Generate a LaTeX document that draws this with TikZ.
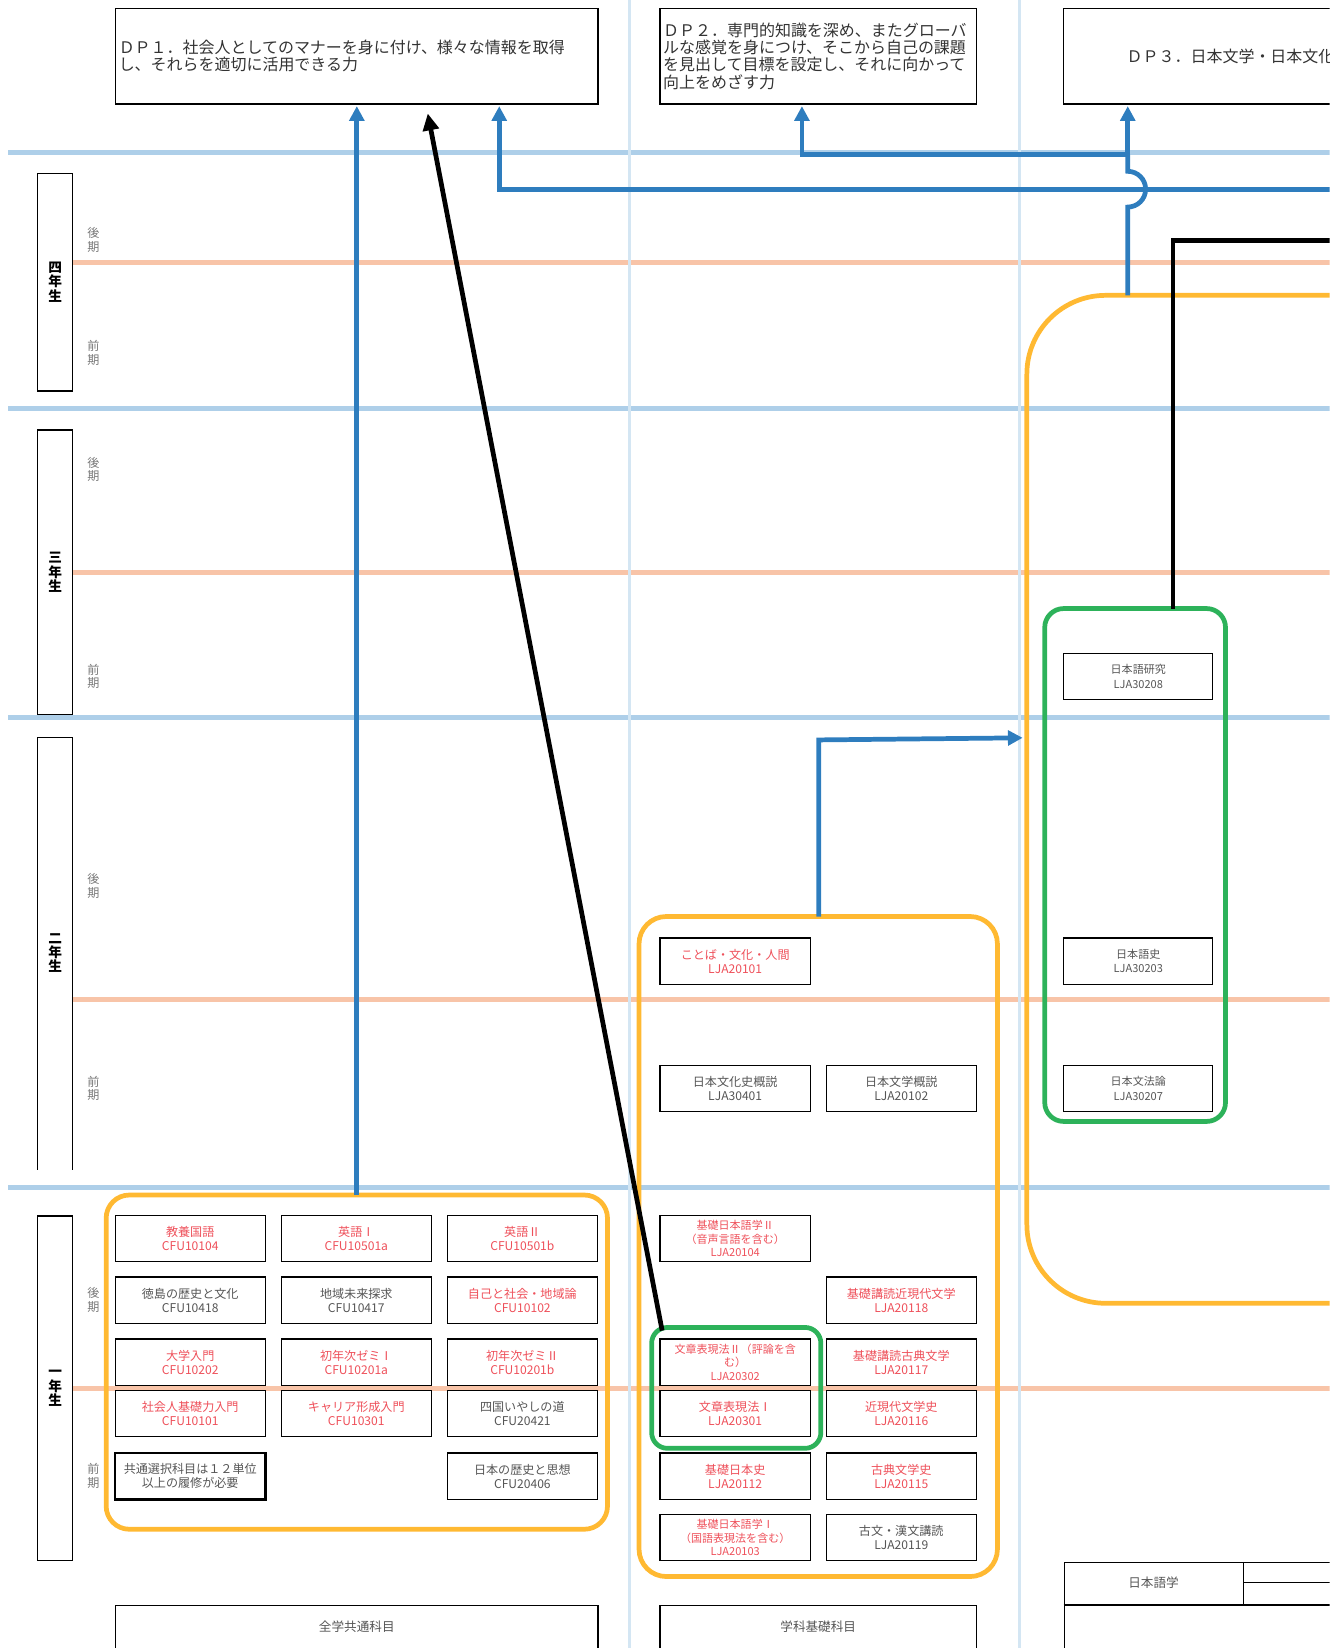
\documentclass[tikz,border=0pt]{standalone}
\usepackage{fontspec}
\setmainfont{Noto Sans CJK JP}
\usetikzlibrary{arrows.meta,calc}
\definecolor{sepblue}{RGB}{174,207,233}
\definecolor{vblue}{RGB}{212,230,243}
\definecolor{semor}{RGB}{248,196,168}
\definecolor{ylw}{RGB}{255,185,50}
\definecolor{grn}{RGB}{45,178,90}
\definecolor{arrblue}{RGB}{46,125,190}
\definecolor{crsred}{RGB}{238,80,90}
\definecolor{crsgray}{RGB}{85,85,85}
\definecolor{dptext}{RGB}{51,51,51}
\definecolor{semgray}{RGB}{120,120,120}
\begin{document}
\begin{tikzpicture}[x=1pt,y=-1pt,
  hsep/.style={draw=sepblue,line width=5pt},
  hsem/.style={draw=semor,line width=5pt},
  vsep/.style={draw=vblue,line width=3pt},
  course/.style={draw=black,line width=1.1pt,minimum width=143pt,minimum height=44pt,inner sep=0pt,align=center,font=\fontsize{11.5}{13.5}\selectfont},
  course3/.style={course,font=\fontsize{10.5}{13}\selectfont},
  coursec/.style={course,minimum width=142pt,font=\fontsize{10.5}{13.5}\selectfont},
  redtxt/.style={text=crsred},
  graytxt/.style={text=crsgray},
  dpbox/.style={draw=black,line width=1.1pt,minimum height=91pt,inner sep=0pt,align=left,text=dptext,font=\fontsize{15.2}{16.5}\selectfont},
  yearbox/.style={draw=black,line width=1.2pt,minimum width=33pt,inner sep=0pt,align=center,font=\fontsize{13}{13.5}\selectfont\bfseries},
  semlbl/.style={align=center,text=semgray,inner sep=0pt,font=\fontsize{11.5}{13}\selectfont},
  ybox/.style={draw=ylw,line width=4.5pt},
  gbox/.style={draw=grn,line width=4.5pt},
  bluearr/.style={draw=arrblue,line width=4.5pt,-{Triangle[length=14pt,width=14pt]}},
  blueln/.style={draw=arrblue,line width=4.5pt},
  blackarr/.style={draw=black,line width=4.5pt,-{Triangle[length=16pt,width=15pt]}},
  blackln/.style={draw=black,line width=4.5pt},
  catlbl/.style={inner sep=0pt,text=crsgray,font=\fontsize{12}{14}\selectfont},
  catbox/.style={draw=black,line width=1.1pt,inner sep=0pt}
]
\useasboundingbox (0,0) rectangle (1278,1568);
\begin{scope}
\clip (0,0) rectangle (1265,1568);
% grid lines
\foreach \y in {145,389,683,1130} \draw[hsep] (8,\y) -- (1300,\y);
\foreach \y in {250,545,951,1321} \draw[hsem] (69,\y) -- (1300,\y);
\draw[vsep] (599,0) -- (599,1568);
\draw[vsep] (970,0) -- (970,1568);

% year boxes
\node[yearbox,minimum height=207pt] (yr4) at (52.5,268.5) {四\\年\\生};
\node[yearbox,minimum height=271pt] (yr3) at (52.5,544.5) {三\\年\\生};
\draw[line width=1.2pt] (36,1113) -- (36,702) -- (69,702) -- (69,1113);
\node[inner sep=0pt,align=center,font=\fontsize{13}{13.5}\selectfont\bfseries] (yr2) at (52.5,907) {二\\年\\生};
\node[yearbox,minimum height=328pt] (yr1) at (52.5,1321) {一\\年\\生};

% semester labels
\node[semlbl] (s4b) at (89,228.5) {後\\期};
\node[semlbl] (s4a) at (89,335.5) {前\\期};
\node[semlbl] (s3b) at (89,446.5) {後\\期};
\node[semlbl] (s3a) at (89,643.5) {前\\期};
\node[semlbl] (s2b) at (89,843) {後\\期};
\node[semlbl] (s2a) at (89,1035.5) {前\\期};
\node[semlbl] (s1b) at (89,1237) {後\\期};
\node[semlbl] (s1a) at (89,1404.5) {前\\期};

% DP boxes
\node[dpbox,minimum width=459pt,text width=453pt] (dp1) at (339.5,53.5)
  {ＤＰ１．社会人としてのマナーを身に付け、様々な情報を取得\\し、それらを適切に活用できる力};
\node[dpbox,minimum width=301pt,text width=295pt] (dp2) at (778.5,53.5)
  {ＤＰ２．専門的知識を深め、またグローバ\\ルな感覚を身につけ、そこから自己の課題\\を見出して目標を設定し、それに向かって\\向上をめざす力};
\node[dpbox,minimum width=320pt,text width=200pt] (dp3) at (1172,53.5)
  {ＤＰ３．日本文学・日本文化};

% rounded group boxes
\draw[ybox,rounded corners=22pt] (101,1137) rectangle (578,1455);
\coordinate (y1top) at (339.5,1137);
\draw[ybox,rounded corners=26pt] (608,872) rectangle (949,1500);
\coordinate (y2top) at (779,872);
\draw[ybox,rounded corners=75pt] (977,281) rectangle (1400,1240);
\coordinate (y3top) at (1073,281);
\draw[gbox,rounded corners=15pt] (620,1263) rectangle (781,1378);
\coordinate (g1start) at (630,1266);
\draw[gbox,rounded corners=18pt] (994,579) rectangle (1166,1067);
\coordinate (g2top) at (1116,579);

% column 1 courses
\node[course,redtxt] (c1) at (181,1178.5) {教養国語\\CFU10104};
\node[course,redtxt] (c2) at (339,1178.5) {英語Ⅰ\\CFU10501a};
\node[course,redtxt] (c3) at (497,1178.5) {英語Ⅱ\\CFU10501b};
\node[course,graytxt] (c4) at (181,1237) {徳島の歴史と文化\\CFU10418};
\node[course,graytxt] (c5) at (339,1237) {地域未来探求\\CFU10417};
\node[course,redtxt] (c6) at (497,1237) {自己と社会・地域論\\CFU10102};
\node[course,redtxt] (c7) at (181,1296) {大学入門\\CFU10202};
\node[course,redtxt] (c8) at (339,1296) {初年次ゼミⅠ\\CFU10201a};
\node[course,redtxt] (c9) at (497,1296) {初年次ゼミⅡ\\CFU10201b};
\node[course,redtxt] (c10) at (181,1345) {社会人基礎力入門\\CFU10101};
\node[course,redtxt] (c11) at (339,1345) {キャリア形成入門\\CFU10301};
\node[course,graytxt] (c12) at (497,1345) {四国いやしの道\\CFU20421};
\node[course,graytxt,line width=2.6pt] (c13) at (181,1404.5) {共通選択科目は１２単位\\以上の履修が必要};
\node[course,graytxt] (c14) at (497,1404.5) {日本の歴史と思想\\CFU20406};

% column 2 courses
\node[course,redtxt] (d1) at (699.5,914.5) {ことば・文化・人間\\LJA20101};
\node[course,graytxt] (d2) at (699.5,1035.5) {日本文化史概説\\LJA30401};
\node[course,graytxt] (d3) at (857.5,1035.5) {日本文学概説\\LJA20102};
\node[course3,redtxt] (d4) at (699.5,1178.5) {基礎日本語学Ⅱ\\（音声言語を含む）\\LJA20104};
\node[course,redtxt] (d5) at (857.5,1237) {基礎講読近現代文学\\LJA20118};
\node[course3,redtxt] (d6) at (699.5,1296) {文章表現法Ⅱ（評論を含\\む）\\LJA20302};
\node[course,redtxt] (d7) at (857.5,1296) {基礎講読古典文学\\LJA20117};
\node[course,redtxt] (d8) at (699.5,1345) {文章表現法Ⅰ\\LJA20301};
\node[course,redtxt] (d9) at (857.5,1345) {近現代文学史\\LJA20116};
\node[course,redtxt] (d10) at (699.5,1404.5) {基礎日本史\\LJA20112};
\node[course,redtxt] (d11) at (857.5,1404.5) {古典文学史\\LJA20115};
\node[course3,redtxt] (d12) at (699.5,1463) {基礎日本語学Ⅰ\\（国語表現法を含む）\\LJA20103};
\node[course,graytxt] (d13) at (857.5,1463) {古文・漢文講読\\LJA20119};

% column 3 courses
\node[coursec,graytxt] (e1) at (1083,643.5) {日本語研究\\LJA30208};
\node[coursec,graytxt] (e2) at (1083,914.5) {日本語史\\LJA30203};
\node[coursec,graytxt] (e3) at (1083,1035.5) {日本文法論\\LJA30207};

% category boxes at bottom
\node[catbox,minimum width=459pt,minimum height=80pt,anchor=north] (k1) at (339.5,1527) {};
\node[catlbl] (k1l) at (339.5,1548) {全学共通科目};
\node[catbox,minimum width=301pt,minimum height=80pt,anchor=north] (k2) at (778.5,1527) {};
\node[catlbl] (k2l) at (778.5,1548) {学科基礎科目};
\node[catbox,minimum width=320pt,minimum height=120pt,anchor=north west] (k3) at (1012,1486) {};
\draw[line width=1.1pt] (1012,1527) -- (1332,1527);
\draw[line width=1.1pt] (1183,1486) -- (1183,1527);
\draw[line width=1.1pt] (1183,1506) -- (1332,1506);
\node[catlbl] (k3l) at (1097.5,1506) {日本語学};

% arrow end coordinates
\coordinate (dp1tipA) at (339.5,101);
\coordinate (dp1tipB) at (475,101);
\coordinate (dp1tipC) at (407,108);
\coordinate (dp2tip) at (763,101);
\coordinate (dp3tip) at (1073,101);
\coordinate (redge1) at (1300,180);
\coordinate (redge2) at (1300,229);
\coordinate (junc) at (1073,147);
\coordinate (col3tip) at (973,702);
\coordinate (bend2) at (779,704);

% blue connectors
\draw[bluearr] (y1top) -- (dp1tipA);
\draw[bluearr] (redge1) -| (dp1tipB);
\draw[bluearr] (y2top) -- (bend2) -- (col3tip);
\draw[blueln] (y3top) -- (1073,197) .. controls (1082.4,197) and (1090,189.4) .. (1090,180)
   .. controls (1090,170.6) and (1082.4,163) .. (1073,163) -- (junc);
\draw[bluearr] (junc) -- (dp3tip);
\draw[bluearr] (junc) -| (dp2tip);

% black connectors
\draw[blackarr] (g1start) -- (dp1tipC);
\draw[blackln] (g2top) |- (redge2);
\end{scope}
\end{tikzpicture}
\end{document}
